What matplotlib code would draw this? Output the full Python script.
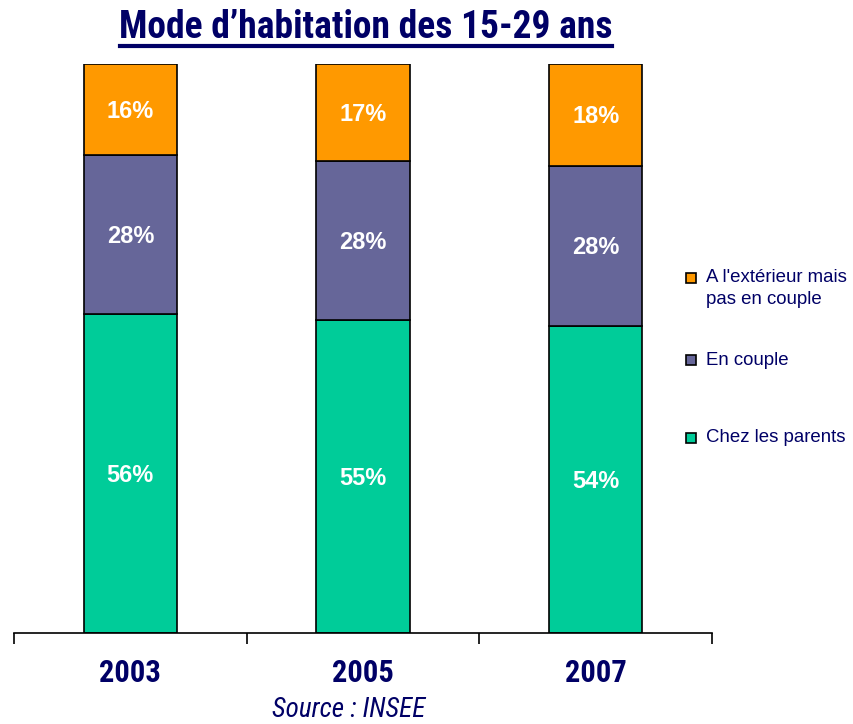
import matplotlib
matplotlib.use("Agg")
import matplotlib.pyplot as plt
from matplotlib import font_manager
from matplotlib.patches import Rectangle
from matplotlib.lines import Line2D
import numpy as np

# Donnees
years = ["2003", "2005", "2007"]
parents = [56, 55, 54]
couple = [28, 28, 28]
exterieur = [16, 17, 18]
series_names = ["Chez les parents", "En couple", "A l'extérieur mais\npas en couple"]
colors = ["#00CC99", "#666699", "#FF9900"]

NAVY = "#000066"

# polices : premiere famille dispo qui a un gras
fonts = font_manager.fontManager.ttflist
def pick(*cands):
    for c in cands:
        if any(f.name == c and f.weight in (700, "bold") for f in fonts):
            return [c, "DejaVu Sans"]
    return ["DejaVu Sans"]

NARROW = pick("Liberation Sans Narrow", "Arial Narrow", "Archivo Narrow", "Roboto Condensed",
              "PT Sans Narrow", "Open Sans Condensed", "Pragati Narrow", "Liberation Sans")
ARIAL = pick("Liberation Sans", "Arimo", "Arial")

fig = plt.figure(figsize=(8.54, 7.24), dpi=100)
ax = fig.add_axes([14 / 854, 1 - 633 / 724, (712 - 14) / 854, (633 - 64) / 724])

x = np.arange(len(years))
bottom = np.zeros(len(years))
for vals, name, col in zip([parents, couple, exterieur], series_names, colors):
    vals = np.array(vals, dtype=float)
    ax.bar(x, vals, width=0.4, bottom=bottom, color=col, edgecolor="black", linewidth=1.2)
    for xi, b, v in zip(x, bottom, vals):
        ax.text(xi, b + v / 2 - 0.3, f"{int(v)}%", ha="center", va="center", color="white",
                fontsize=17, fontweight="bold", family=ARIAL)
    bottom += vals

ax.set_xlim(-0.5, 2.5)
ax.set_ylim(0, 100)
for s in ["top", "right", "left"]:
    ax.spines[s].set_visible(False)
ax.spines["bottom"].set_linewidth(1.2)
ax.set_yticks([])
ax.set_xticks(x)
ax.set_xticklabels(years, fontsize=22, fontweight="bold", color=NAVY, family=NARROW)
ax.tick_params(axis="x", which="major", length=0, pad=18)
ax.set_xticks([-0.5, 0.5, 1.5, 2.5], minor=True)
ax.tick_params(axis="x", which="minor", length=8, width=1.2, direction="out")

# Titre souligne
fig.text(366 / 854, 1 - 27 / 724, "Mode d\u2019habitation des 15-29 ans", ha="center", va="center",
         fontsize=27, fontweight="bold", color=NAVY, family=NARROW)
fig.add_artist(Line2D([120 / 854, 612 / 854], [1 - 46 / 724, 1 - 46 / 724], color=NAVY, linewidth=3))

# Legende
leg_y = [438, 360, 278]
for name, col, yy in zip(series_names, colors, leg_y):
    fig.add_artist(Rectangle((686 / 854, 1 - (yy + 5) / 724), 10 / 854, 10 / 724,
                             facecolor=col, edgecolor="black", linewidth=1.2))
    if "\n" in name:
        fig.text(706 / 854, 1 - (yy - 9) / 724, name, ha="left", va="top",
                 fontsize=13.4, color=NAVY, family=ARIAL, linespacing=1.4)
    else:
        fig.text(706 / 854, 1 - yy / 724, name, ha="left", va="center",
                 fontsize=13.4, color=NAVY, family=ARIAL)

fig.text(349 / 854, 1 - 710 / 724, "Source : INSEE", ha="center", va="center",
         fontsize=19.5, style="italic", color=NAVY, family=NARROW)

fig.savefig("out.png", dpi=100)
